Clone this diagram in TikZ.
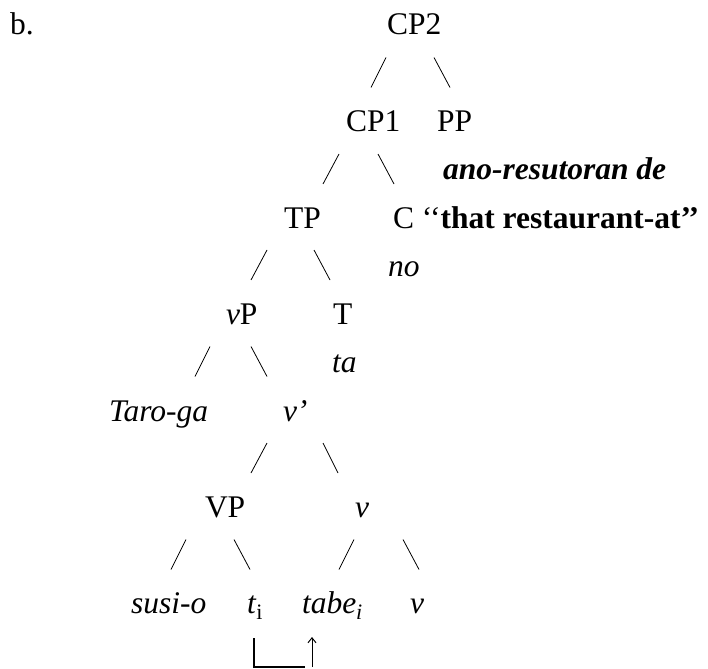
\documentclass[tikz,border=0pt]{standalone}
\usepackage{fontspec}
\setmainfont{Liberation Serif}
\usetikzlibrary{arrows.meta}
\begin{document}
\begin{tikzpicture}[x=1pt,y=1pt,
  lbl/.style={anchor=base west, inner sep=0pt, outer sep=0pt,
              font=\fontsize{31.5}{38}\selectfont},
  branch/.style={line width=0.8pt},
  move/.style={line width=1.2pt},
  movehead/.style={line width=1pt, -{Straight Barb[length=5pt,width=8pt]}}]
\useasboundingbox (0,0) rectangle (708,-668);

% labels, one text line every 48.2pt
\node[lbl] (ex)    at (10,-35)     {b.};
\node[lbl] (cp2)   at (387,-35)    {CP2};
\node[lbl] (cp1)   at (346,-131.5) {CP1};
\node[lbl] (pp)    at (437,-131.5) {PP};
\node[lbl] (ppw)   at (443,-180)   {\textbf{\textit{ano-resutoran de}}};
\node[lbl] (tp)    at (284,-228)   {TP};
\node[lbl] (c)     at (393,-228)   {C ‘‘\textbf{that restaurant-at’’}};
\node[lbl] (cw)    at (388,-276)   {\textit{no}};
\node[lbl] (vp)    at (226,-324.5) {\textit{v}P};
\node[lbl] (t)     at (333,-324.5) {T};
\node[lbl] (tw)    at (332,-372.5) {\textit{ta}};
\node[lbl] (subj)  at (109,-421)   {\textit{Taro-ga}};
\node[lbl] (vbar)  at (283,-421)   {\textit{v’}};
\node[lbl] (VP)    at (205,-517.5) {VP};
\node[lbl] (vhead) at (355,-517.5) {\textit{v}};
\node[lbl] (obj)   at (131,-613.5) {\textit{susi-o}};
\node[lbl] (trace) at (247,-613.5) {\textit{t}\textsubscript{i}};
\node[lbl] (verb)  at (302,-613.5) {\textit{tabe\textsubscript{i}}};
\node[lbl] (vaff)  at (410,-613.5) {\textit{v}};

% branches: short strokes between the label lines
\draw[branch] (386,-57.5) -- (371,-87.5);
\draw[branch] (434,-57.5) -- (450,-87.5);
\draw[branch] (339,-154) -- (323,-184);
\draw[branch] (378,-154) -- (394,-184);
\draw[branch] (267,-250) -- (251,-280);
\draw[branch] (314,-250) -- (330,-280);
\draw[branch] (210,-346.5) -- (195,-376.5);
\draw[branch] (251,-346.5) -- (267,-376.5);
\draw[branch] (267,-443) -- (251,-473);
\draw[branch] (323,-443) -- (338,-473);
\draw[branch] (186,-539.5) -- (171,-569.5);
\draw[branch] (234,-539.5) -- (250,-569.5);
\draw[branch] (354,-539.5) -- (339,-569.5);
\draw[branch] (403,-539.5) -- (419,-569.5);

% head movement of the verb: bar and underline below the trace, arrow up to the verb
\coordinate (mvA) at ([xshift=7pt,yshift=-24.5pt]trace.base west);
\coordinate (mvC) at ([xshift=10pt,yshift=-53.5pt]verb.base west);
\coordinate (mvB) at ([xshift=10pt,yshift=-23.5pt]verb.base west);
\draw[move] (mvA) -- ++(0,-29) -- ++(51,0);
\draw[movehead] (mvC) -- (mvB);
\end{tikzpicture}
\end{document}
